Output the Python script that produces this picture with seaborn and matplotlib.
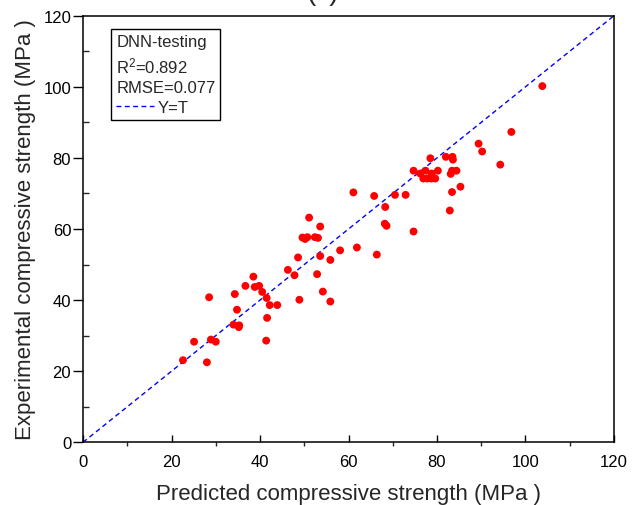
import seaborn as sns
import matplotlib.pyplot as plt
from matplotlib.lines import Line2D
from matplotlib.ticker import MultipleLocator

sns.set_style("ticks")
plt.rcParams['font.family'] = ['Liberation Sans', 'DejaVu Sans']
plt.rcParams['mathtext.fontset'] = 'custom'
plt.rcParams['mathtext.rm'] = 'Liberation Sans'
plt.rcParams['mathtext.default'] = 'regular'

# predicted vs experimental strength (MPa)
predicted = [103.8, 96.8, 89.4, 90.2, 94.3, 78.5, 82.0, 83.5, 83.6, 74.7,
             77.4, 80.2, 83.4, 84.4, 76.2, 78.8, 83.1, 76.9, 77.8, 78.7,
             79.6, 72.9, 85.3, 83.4, 82.9, 74.7, 61.1, 65.8, 70.5, 68.3,
             68.2, 68.6, 51.1, 53.6, 49.6, 50.2, 50.7, 52.4, 53.1, 48.6,
             53.6, 55.9, 58.1, 61.9, 66.4, 52.9, 54.2, 55.9, 48.9, 46.3,
             47.8, 38.5, 36.7, 38.8, 39.8, 40.5, 34.3, 28.5, 41.5, 42.2,
             43.9, 34.8, 41.6, 34.0, 35.3, 35.2, 25.1, 28.9, 30.0, 41.4,
             22.6, 28.0]
experimental = [100.2, 87.3, 84.0, 81.8, 78.1, 79.9, 80.3, 80.3, 79.5, 76.4,
                76.4, 76.4, 76.4, 76.4, 75.6, 75.6, 75.5, 74.2, 74.2, 74.2,
                74.2, 69.6, 71.9, 70.4, 65.2, 59.3, 70.3, 69.3, 69.6, 66.2,
                61.5, 60.9, 63.2, 60.7, 57.6, 57.2, 57.7, 57.7, 57.5, 52.0,
                52.4, 51.3, 54.0, 54.8, 52.8, 47.3, 42.4, 39.6, 40.1, 48.5,
                47.0, 46.6, 44.0, 43.7, 44.0, 42.3, 41.7, 40.8, 40.6, 38.6,
                38.6, 37.3, 35.0, 33.1, 32.9, 32.4, 28.3, 28.9, 28.3, 28.6,
                23.1, 22.5]
limits = [0, 120]
stats = ['DNN-testing', 'R$^2$=0.892', 'RMSE=0.077']

fig = plt.figure(figsize=(6.44, 5.06), dpi=100)
ax = fig.add_axes([0.1289, 0.1239, 0.8245, 0.8431])

# Y=T reference line
ax.plot(limits, limits, color='#0000ff', lw=1, dashes=(3.5, 2.5))

sns.scatterplot(x=predicted, y=experimental, color='red', s=32,
                edgecolor='none', linewidth=0, ax=ax, zorder=3)

ax.set(xlim=limits, ylim=limits)
ax.xaxis.set_major_locator(MultipleLocator(20))
ax.xaxis.set_minor_locator(MultipleLocator(10))
ax.yaxis.set_major_locator(MultipleLocator(20))
ax.yaxis.set_minor_locator(MultipleLocator(10))

# Origin-like ticks: x major in / minor out, y major out / minor in
ax.tick_params(axis='x', which='major', direction='in', length=5, width=1,
               labelsize=12, pad=8.5, colors='black')
ax.tick_params(axis='x', which='minor', direction='out', length=3, width=1)
ax.tick_params(axis='y', which='major', direction='out', length=7, width=1,
               labelsize=12, pad=1.5, colors='black')
ax.tick_params(axis='y', which='minor', direction='in', length=4, width=1)
for s in ax.spines.values():
    s.set_linewidth(1.1)
    s.set_color('black')

ax.set_xlabel('Predicted compressive strength (MPa )', fontsize=16, labelpad=10)
ax.set_ylabel('Experimental compressive strength (MPa )', fontsize=16, labelpad=5)

# legend box
handle = Line2D([], [], color='#0000ff', lw=1, dashes=(3.5, 2.5))
leg = ax.legend(handles=[handle], labels=['Y=T'], title='\n'.join(stats),
                alignment='left', loc='upper left',
                bbox_to_anchor=(0.053, 0.969), borderaxespad=0,
                fontsize=12, title_fontsize=12, fancybox=False,
                edgecolor='black', framealpha=1, borderpad=0.3,
                handlelength=2.3, handletextpad=0.2, labelspacing=0.2)
leg.get_frame().set_linewidth(1)
leg.get_title().set_linespacing(1.4)
leg._legend_box.sep = 3

# panel title, cut off at the top edge as in the source figure
fig.text(0.5016, 1.0, '(c)', fontsize=20, ha='center', va='baseline')

fig.savefig('out.png', dpi=100)
